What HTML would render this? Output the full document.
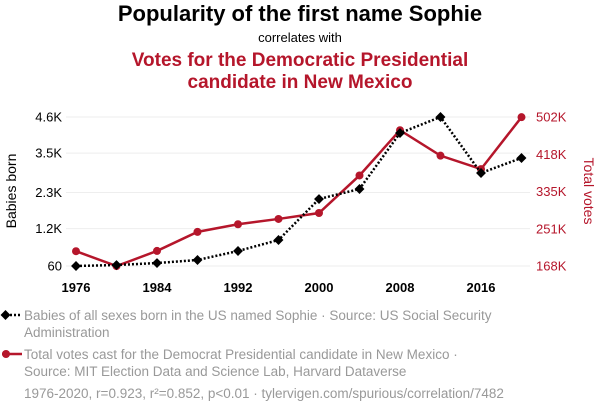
<!DOCTYPE html>
<html><head><meta charset="utf-8"><style>
body{margin:0;background:#fff;width:600px;height:414px;overflow:hidden;font-family:"Liberation Sans",sans-serif}
</style></head><body>
<svg width="600" height="414" xmlns="http://www.w3.org/2000/svg" font-family="Liberation Sans, sans-serif">
<text x="300" y="21" text-anchor="middle" font-size="22" font-weight="bold" fill="#000">Popularity of the first name Sophie</text>
<text x="300" y="42" text-anchor="middle" font-size="13" fill="#000">correlates with</text>
<text x="300" y="66" text-anchor="middle" font-size="19" font-weight="bold" fill="#b5162b">Votes for the Democratic Presidential</text>
<text x="300" y="88" text-anchor="middle" font-size="19" font-weight="bold" fill="#b5162b">candidate in New Mexico</text>
<g id="grid"></g>
<g id="axes"></g>
<g id="series"></g>
<text transform="translate(16,191) rotate(-90)" text-anchor="middle" font-size="14" fill="#000">Babies born</text>
<text transform="translate(584,191) rotate(90)" text-anchor="middle" font-size="14" fill="#b5162b">Total votes</text>
<g>
<line x1="2" y1="315" x2="22" y2="315" stroke="#000" stroke-width="2.5" stroke-dasharray="2,2"/>
<rect x="2" y="311.5" width="7" height="7" transform="rotate(45 5.5 315)" fill="#000"/>
<text x="24" y="320" font-size="13.5" fill="#999">Babies of all sexes born in the US named Sophie · Source: US Social Security</text>
<text x="24" y="337" font-size="13.5" fill="#999">Administration</text>
</g>
<g>
<line x1="2" y1="354" x2="22" y2="354" stroke="#b5162b" stroke-width="2.5"/>
<circle cx="6" cy="354" r="4" fill="#b5162b"/>
<text x="24" y="359" font-size="13.5" fill="#999">Total votes cast for the Democrat Presidential candidate in New Mexico ·</text>
<text x="24" y="376" font-size="13.5" fill="#999">Source: MIT Election Data and Science Lab, Harvard Dataverse</text>
</g>
<text x="24" y="398" font-size="13.5" fill="#999">1976-2020, r=0.923, r²=0.852, p&lt;0.01 · tylervigen.com/spurious/correlation/7482</text>
</svg>
<script>
const years=[1976,1980,1984,1988,1992,1996,2000,2004,2008,2012,2016,2020];
const sophie=[60,90,150,243,517,852,2101,2406,4112,4600,2894,3351];
const votes=[201148,167826,201769,244497,261617,273495,286783,370942,472422,415335,385234,501614];
const xTicks=[1976,1984,1992,2000,2008,2016];
const leftTicks=[60,1200,2300,3500,4600];
const leftLabels=["60","1.2K","2.3K","3.5K","4.6K"];
const rightTicks=[168000,251000,335000,418000,502000];
const rightLabels=["168K","251K","335K","418K","502K"];
const NS="http://www.w3.org/2000/svg";
const x=y=>76+(y-1976)*(445.5/44);
const yl=v=>266-(v-60)*(149/4540);
const yr=v=>266-(v-168000)*(149/334000);
function mk(t,a,p){const e=document.createElementNS(NS,t);for(const k in a)e.setAttribute(k,a[k]);p.appendChild(e);return e;}
const grid=document.getElementById('grid'),axes=document.getElementById('axes'),ser=document.getElementById('series');
leftTicks.forEach((v,i)=>{
 const g=mk('line',{x1:66,x2:530,y1:yl(v),y2:yl(v),stroke:'#eee','stroke-width':1},grid);
 
 
 const t=mk('text',{x:62,y:yl(v)+4.5,'text-anchor':'end','font-size':13,fill:'#000'},axes);t.textContent=leftLabels[i];
 
 
});
rightTicks.forEach((v,i)=>{
 const t=mk('text',{x:536,y:yr(v)+4.5,'font-size':13,fill:'#b5162b'},axes);t.textContent=rightLabels[i];
 
 
});
xTicks.forEach(v=>{
 const t=mk('text',{x:x(v),y:292,'text-anchor':'middle','font-size':13,'font-weight':'bold',fill:'#000'},axes);t.textContent=v;
 
 
});
const pv=mk('polyline',{points:years.map((y,i)=>x(y)+','+yr(votes[i])).join(' '),fill:'none',stroke:'#b5162b','stroke-width':2.5},ser);


years.forEach((y,i)=>{const c=mk('circle',{cx:x(y),cy:yr(votes[i]),r:4,fill:'#b5162b'},ser);
 
 });
const ps=mk('polyline',{points:years.map((y,i)=>x(y)+','+yl(sophie[i])).join(' '),fill:'none',stroke:'#000','stroke-width':2.5,'stroke-dasharray':'2,2'},ser);


years.forEach((y,i)=>{const cx=x(y),cy=yl(sophie[i]);
 const r=mk('rect',{x:cx-3.5,y:cy-3.5,width:7,height:7,transform:`rotate(45 ${cx} ${cy})`,fill:'#000'},ser);
 
 });
</script>
</body></html>
